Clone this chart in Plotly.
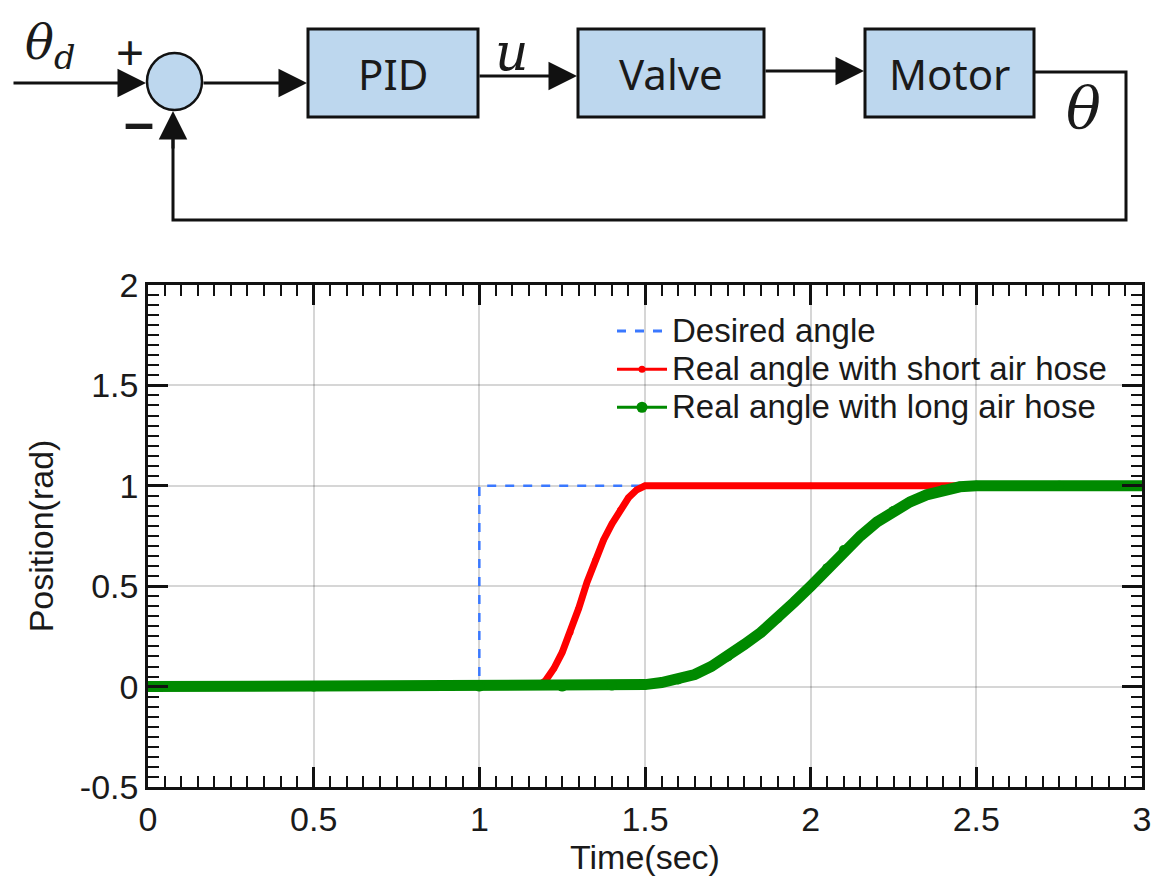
import plotly.graph_objects as go

W, H = 1164, 886
OFF = 8  # page body margin of the html page

# ---------------- data ----------------
t_desired = [0, 1, 1, 3]
y_desired = [0, 0, 1, 1]

t_short = [0, 0.5, 1.0, 1.15, 1.175, 1.2, 1.225, 1.25, 1.275, 1.3, 1.325, 1.35,
           1.375, 1.4, 1.425, 1.45, 1.475, 1.5, 2.0, 2.5, 3.0]
y_short = [0, 0, 0, 0, 0.0, 0.03, 0.09, 0.17, 0.27, 0.39, 0.52, 0.63,
           0.73, 0.81, 0.88, 0.94, 0.98, 1.0, 1.0, 1.0, 1.0]

t_long = [0, 0.5, 1.0, 1.25, 1.4, 1.5, 1.55, 1.6, 1.65, 1.7, 1.75, 1.8, 1.85,
          1.9, 1.95, 2.0, 2.05, 2.1, 2.15, 2.2, 2.25, 2.3, 2.35, 2.4, 2.45,
          2.5, 2.75, 3.0]
y_long = [0, 0, 0, 0.0, 0.005, 0.01, 0.02, 0.035, 0.06, 0.10, 0.15, 0.21, 0.27,
          0.34, 0.42, 0.50, 0.59, 0.68, 0.75, 0.82, 0.875, 0.92, 0.955, 0.98,
          0.995, 1.0, 1.0, 1.0]

x_ticks = [0, 0.5, 1, 1.5, 2, 2.5, 3]
x_ticklabels = ["0", "0.5", "1", "1.5", "2", "2.5", "3"]
y_ticks = [-0.5, 0, 0.5, 1, 1.5, 2]
y_ticklabels = ["-0.5", "0", "0.5", "1", "1.5", "2"]

series_names = ["Desired angle", "Real angle with short air hose",
                "Real angle with long air hose"]

BLUE = "#3a78ff"
RED = "#ff0000"
GREEN = "#008a00"
BOXFILL = "#bdd7ee"
FONT = "Liberation Sans, Arial, sans-serif"
INK = "#1a1a1a"

fig = go.Figure()

fig.add_trace(go.Scatter(x=t_desired, y=y_desired, mode="lines",
                         line=dict(color=BLUE, width=2.5, dash="dash"),
                         showlegend=False, hoverinfo="skip"))
fig.add_trace(go.Scatter(x=t_short, y=y_short, mode="lines+markers",
                         line=dict(color=RED, width=7),
                         marker=dict(color=RED, size=6),
                         showlegend=False, hoverinfo="skip"))
fig.add_trace(go.Scatter(x=t_long, y=y_long, mode="lines+markers",
                         line=dict(color=GREEN, width=11),
                         marker=dict(color=GREEN, size=10),
                         showlegend=False, hoverinfo="skip"))

# legend entries (larger text, tighter rows)
def legend_name(s):
    return '<span style="font-size:33px">' + s + '</span>'

fig.add_trace(go.Scatter(x=[None], y=[None], mode="lines", name=legend_name(series_names[0]),
                         line=dict(color=BLUE, width=3, dash="dash")))
fig.add_trace(go.Scatter(x=[None], y=[None], mode="lines+markers", name=legend_name(series_names[1]),
                         line=dict(color=RED, width=3), marker=dict(color=RED, size=7)))
fig.add_trace(go.Scatter(x=[None], y=[None], mode="lines+markers", name=legend_name(series_names[2]),
                         line=dict(color=GREEN, width=3), marker=dict(color=GREEN, size=11)))

# ---------------- block diagram (pixel helpers, screen pixels) ----------------
def px(x):
    return (x - OFF) / W

def py(y):
    return 1 - (y - OFF) / H

shapes = []
annotations = []

def rect(x0, y0, x1, y1):
    shapes.append(dict(type="rect", xref="paper", yref="paper",
                       x0=px(x0), x1=px(x1), y0=py(y1), y1=py(y0),
                       fillcolor=BOXFILL, line=dict(color="#111", width=3)))

def arrow(x_tail, y_tail, x_tip, y_tip):
    annotations.append(dict(xref="paper", yref="paper", x=px(x_tip), y=py(y_tip),
                            ax=x_tail - x_tip, ay=y_tail - y_tip, axref="pixel", ayref="pixel",
                            text="", showarrow=True, arrowhead=2, arrowsize=1.9,
                            arrowwidth=3, arrowcolor="#111"))

def label(x, y, text, size, family=FONT, color=INK):
    annotations.append(dict(xref="paper", yref="paper", x=px(x), y=py(y), text=text,
                            showarrow=False, xanchor="center", yanchor="middle",
                            font=dict(size=size, family=family, color=color)))

# summing junction
shapes.append(dict(type="circle", xref="paper", yref="paper",
                   x0=px(147), x1=px(202), y0=py(110), y1=py(53),
                   fillcolor=BOXFILL, line=dict(color="#111", width=2.5)))
rect(308, 29, 478, 117)
rect(578, 29, 764, 117)
rect(865, 29, 1034, 117)

# feedback path
shapes.append(dict(type="path", xref="paper", yref="paper",
                   path="M {} {} L {} {} L {} {} L {} {} L {} {}".format(
                       px(1034), py(72), px(1126), py(72), px(1126), py(220),
                       px(173), py(220), px(173), py(130)),
                   line=dict(color="#111", width=3)))

arrow(12, 83, 146, 83)
arrow(202, 83, 307, 83)
arrow(478, 76, 577, 76)
arrow(764, 71, 864, 71)
arrow(173, 150, 173, 111)

BOXFONT = "Noto Sans, Open Sans, sans-serif"
label(393, 73, "PID", 42, BOXFONT)
label(671, 73, "Valve", 42, BOXFONT)
label(949, 73, "Motor", 42, BOXFONT)
label(50, 45, "<i>θ<sub>d</sub></i>", 48, "DejaVu Serif, serif")
label(130, 52, "+", 48, FONT)
label(139, 122, "<b>–</b>", 54, FONT)
label(512, 52, "<i>u</i>", 52, "DejaVu Serif, serif")
label(1083, 108, "<i>θ</i>", 58, "DejaVu Serif, serif")

axis_common = dict(
    showline=True, linecolor="#111", linewidth=2.5, mirror="ticks",
    ticks="inside", ticklen=20, tickwidth=2.5, tickcolor="#111",
    showgrid=True, gridcolor="rgba(0,0,0,0.16)", gridwidth=1.5,
    zeroline=False, automargin=False,
    tickfont=dict(family=FONT, size=34, color=INK),
    minor=dict(ticks="inside", ticklen=11, tickwidth=2, tickcolor="#111",
               dtick=0.05, showgrid=False),
)

fig.update_layout(
    width=W, height=H,
    margin=dict(l=0, r=0, t=0, b=0, autoexpand=False),
    paper_bgcolor="white", plot_bgcolor="white",
    xaxis=dict(axis_common, domain=[px(148), px(1142)], range=[0, 3],
               tickvals=x_ticks, ticktext=x_ticklabels,
               title=dict(text="Time(sec)", font=dict(family=FONT, size=34, color=INK),
                          standoff=2)),
    yaxis=dict(axis_common, domain=[py(787), py(285)], range=[-0.5, 2],
               tickvals=y_ticks, ticktext=y_ticklabels,
               title=dict(text="Position(rad)", font=dict(family=FONT, size=34, color=INK),
                          standoff=16)),
    legend=dict(x=px(612), y=py(307), xanchor="left", yanchor="top",
                bgcolor="rgba(0,0,0,0)", itemwidth=50,
                font=dict(family=FONT, size=27, color=INK),
                tracegroupgap=0),
    shapes=shapes,
    annotations=annotations,
)

fig.write_html("out.html")
